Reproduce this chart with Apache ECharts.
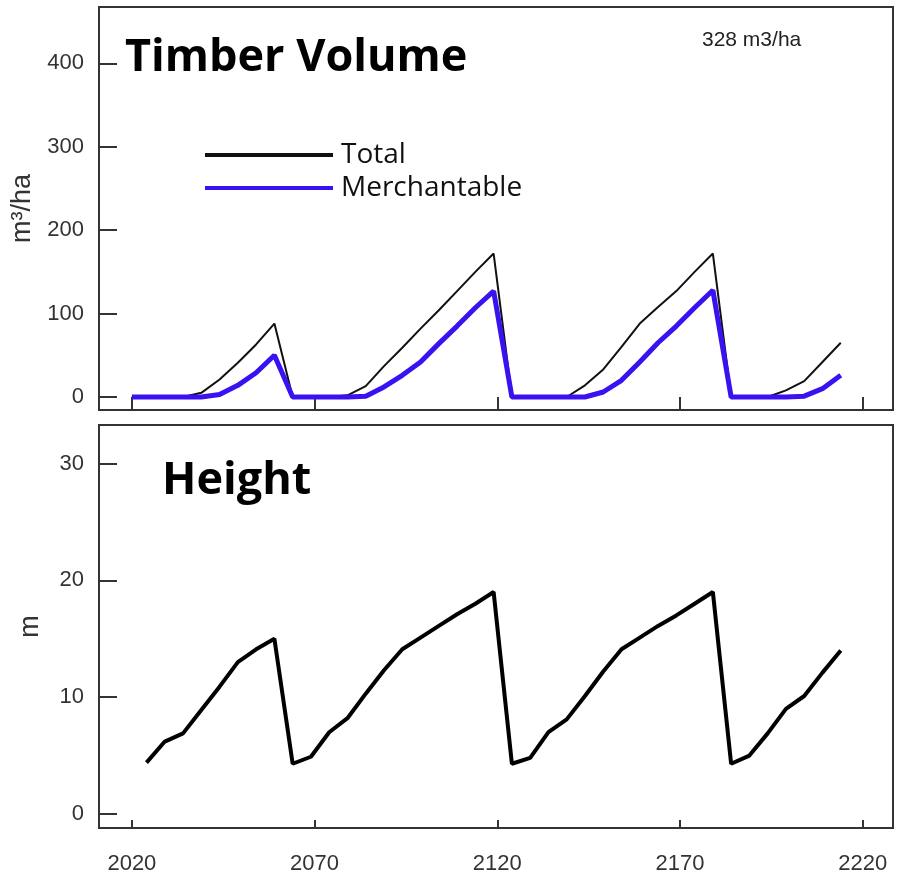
<!DOCTYPE html>
<html>
<head>
<meta charset="utf-8">
<script src="https://cdn.jsdelivr.net/npm/echarts@6/dist/echarts.min.js"></script>
<style>
  html, body { margin: 0; padding: 0; background: #fff; }
  #chart { width: 900px; height: 878px; }
</style>
</head>
<body>
<div id="chart"></div>
<script>
var dom = document.getElementById('chart');
var chart = echarts.init(dom);

var years = [
	2020, 2024, 2029, 2034, 2039, 2044, 2049, 2054, 2059, 2064,
	2069, 2074, 2079, 2084, 2089, 2094, 2099, 2104, 2109, 2114,
	2119, 2124, 2129, 2134, 2139, 2144, 2149, 2154, 2159, 2164,
	2169, 2174, 2179, 2184, 2189, 2194, 2199, 2204, 2209, 2214
];

// m3/ha
var totalVolume = [
	0, 0, 0, 0, 5, 21, 41, 63, 88, 0,
	0, 0, 2, 13, 37, 59, 82, 104, 127, 150,
	172, 0, 0, 0, 0, 14, 33, 60, 88, 108,
	127, 150, 172, 0, 0, 0, 8, 19, 42, 65
];

var merchVolume = [
	0, 0, 0, 0, 0, 3, 14, 29, 50, 0,
	0, 0, 0, 1, 12, 26, 42, 64, 85, 107,
	127, 0, 0, 0, 0, 0, 6, 20, 42, 65,
	85, 107, 128, 0, 0, 0, 0, 1, 10, 26
];

// m (no value visible for 2020)
var heightM = [
	null, 4.4, 6.2, 6.9, 8.9, 10.9, 13.0, 14.1, 15.0, 4.3,
	4.9, 7.0, 8.2, 10.3, 12.3, 14.1, 15.1, 16.1, 17.1, 18.0,
	19.0, 4.3, 4.8, 7.0, 8.1, 10.1, 12.2, 14.1, 15.1, 16.1,
	17.0, 18.0, 19.0, 4.3, 5.0, 6.9, 9.0, 10.1, 12.1, 14.0
];

var yearTicks = [2020, 2070, 2120, 2170, 2220];
var volumeTicks = [0, 100, 200, 300, 400];
var heightTicks = [0, 10, 20, 30];

function pairs(vals) {
	return years.map(function (y, i) { return [y, vals[i]]; });
}

var labelFont = {
	fontFamily: 'Liberation Sans',
	fontSize: 22,
	color: '#333'
};

var option = {
	animation: false,
	backgroundColor: '#fff',
	title: [{
		text: 'Timber Volume',
		left: 120,
		top: 31,
		textStyle: { fontFamily: 'Open Sans', fontWeight: 'bold', fontSize: 45, color: '#000' }
	}, {
		text: 'Height',
		left: 157,
		top: 454,
		textStyle: { fontFamily: 'Open Sans', fontWeight: 'bold', fontSize: 45, color: '#000' }
	}, {
		text: '328 m3/ha',
		left: 697,
		top: 25,
		textStyle: { fontFamily: 'Liberation Sans', fontWeight: 'normal', fontSize: 21, color: '#222' }
	}],
	legend: {
		data: ['Total', 'Merchantable'],
		orient: 'vertical',
		left: 205,
		top: 141,
		padding: 0,
		itemGap: 5,
		itemWidth: 128,
		itemHeight: 4,
		icon: 'rect',
		textStyle: { fontFamily: 'Open Sans', fontSize: 28, lineHeight: 28, color: '#111', padding: [0, 0, 0, 3] }
	},
	grid: [{
		left: 99, top: 7, width: 794, height: 403,
		show: true, borderColor: '#333', borderWidth: 2, backgroundColor: 'transparent'
	}, {
		left: 99, top: 425, width: 794, height: 403,
		show: true, borderColor: '#333', borderWidth: 2, backgroundColor: 'transparent'
	}],
	xAxis: [{
		type: 'value',
		gridIndex: 0,
		min: 2011,
		max: 2228.3,
		axisLine: { show: false, onZero: false },
		axisTick: { show: true, inside: true, length: 13, customValues: yearTicks, lineStyle: { color: '#333', width: 2 } },
		axisLabel: { show: false },
		splitLine: { show: false }
	}, {
		type: 'value',
		gridIndex: 1,
		min: 2011,
		max: 2228.3,
		axisLine: { show: false, onZero: false },
		axisTick: { show: true, inside: true, length: 8, customValues: yearTicks, lineStyle: { color: '#333', width: 2 } },
		axisLabel: Object.assign({
			show: true,
			margin: 25,
			customValues: yearTicks,
			formatter: function (v) { return String(v); }
		}, labelFont),
		splitLine: { show: false }
	}],
	yAxis: [{
		type: 'value',
		gridIndex: 0,
		min: -15.6,
		max: 467.6,
		name: 'm³/ha',
		nameLocation: 'middle',
		nameGap: 53,
		nameRotate: 90,
		nameTextStyle: { fontFamily: 'Liberation Sans', fontSize: 27, color: '#333' },
		axisLine: { show: false, onZero: false },
		axisTick: { show: true, inside: true, length: 18, customValues: volumeTicks, lineStyle: { color: '#333', width: 2 } },
		axisLabel: Object.assign({ show: true, margin: 15, customValues: volumeTicks }, labelFont),
		splitLine: { show: false }
	}, {
		type: 'value',
		gridIndex: 1,
		min: -1.2,
		max: 33.3,
		name: 'm',
		nameLocation: 'middle',
		nameGap: 55,
		nameRotate: 90,
		nameTextStyle: { fontFamily: 'Liberation Sans', fontSize: 27, color: '#333' },
		axisLine: { show: false, onZero: false },
		axisTick: { show: true, inside: true, length: 18, customValues: heightTicks, lineStyle: { color: '#333', width: 2 } },
		axisLabel: Object.assign({ show: true, margin: 15, customValues: heightTicks }, labelFont),
		splitLine: { show: false }
	}],
	series: [{
		name: 'Total',
		type: 'line',
		xAxisIndex: 0,
		yAxisIndex: 0,
		symbol: 'none',
		color: '#111',
		lineStyle: { color: '#111', width: 2 },
		data: pairs(totalVolume)
	}, {
		name: 'Merchantable',
		type: 'line',
		xAxisIndex: 0,
		yAxisIndex: 0,
		symbol: 'none',
		color: '#3a12f2',
		lineStyle: { color: '#3a12f2', width: 5 },
		data: pairs(merchVolume)
	}, {
		name: 'Height',
		type: 'line',
		xAxisIndex: 1,
		yAxisIndex: 1,
		symbol: 'none',
		color: '#000',
		lineStyle: { color: '#000', width: 4 },
		data: pairs(heightM)
	}]
};

chart.setOption(option);
</script>
</body>
</html>
